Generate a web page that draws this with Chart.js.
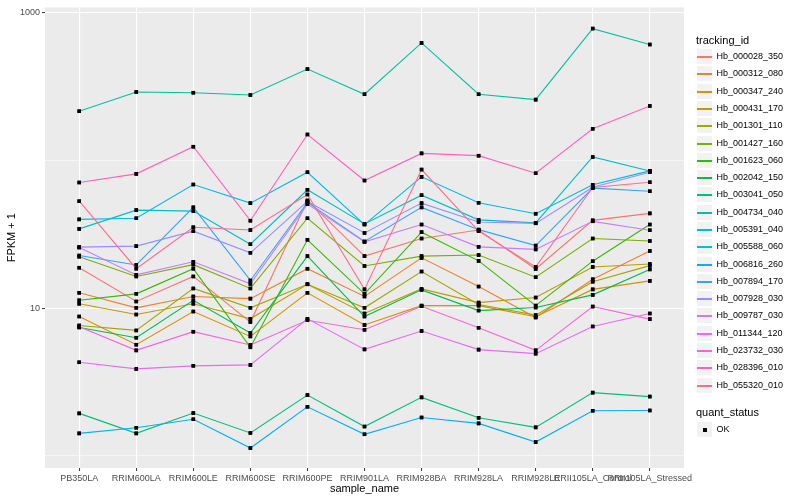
<!DOCTYPE html>
<html><head><meta charset="utf-8">
<script src="https://cdn.jsdelivr.net/npm/chart.js@4"></script>
<style>
html,body{margin:0;padding:0;background:#fff;}
#wrap{position:relative;width:800px;height:500px;overflow:hidden;font-family:"Liberation Sans",Arial,sans-serif;}
#c{position:absolute;left:0;top:0;}
.lt{position:absolute;white-space:nowrap;color:#000;}
.key{position:absolute;box-sizing:border-box;background:#F2F2F2;border:1px solid #fff;}
.kl{position:absolute;left:0;right:0;}
</style></head><body>
<div id="wrap"><canvas id="c" width="800" height="500"></canvas><div id="legend"></div></div>
<script>
// ---- data ----
const sampleNames = ["PB350LA","RRIM600LA","RRIM600LE","RRIM600SE","RRIM600PE","RRIM901LA","RRIM928BA","RRIM928LA","RRIM928LE","RRII105LA_Control","RRII105LA_Stressed"];
const trackingIds = ["Hb_000028_350","Hb_000312_080","Hb_000347_240","Hb_000431_170","Hb_001301_110","Hb_001427_160","Hb_001623_060","Hb_002042_150","Hb_003041_050","Hb_004734_040","Hb_005391_040","Hb_005588_060","Hb_006816_260","Hb_007894_170","Hb_007928_030","Hb_009787_030","Hb_011344_120","Hb_023732_030","Hb_028396_010","Hb_055320_010"];
const seriesColors = ["#F8766D","#EA8331","#D89000","#C09B00","#A3A500","#7CAE00","#39B600","#00BB4E","#00BF7D","#00C1A3","#00BFC4","#00BAE0","#00B0F6","#35A2FF","#9590FF","#C77CFF","#E76BF3","#FA62DB","#FF62BC","#FF6C91"];
const yTickValues = [1, 10, 100, 1000];
const yTickLabels = ["", "10", "", "1000"];

const Hb_000028_350 = [18.8, 11.1, 16.4, 8.05, 53.6, 22.5, 29.6, 33.8, 18.4, 39.3, 43.8];
const Hb_000312_080 = [12.7, 10.05, 12.0, 11.6, 18.5, 12.0, 21.9, 14.0, 8.64, 15.7, 24.4];
const Hb_000347_240 = [8.78, 5.66, 9.49, 6.44, 12.7, 7.69, 10.4, 10.4, 8.74, 13.4, 15.3];
const Hb_000431_170 = [10.7, 9.06, 10.7, 8.47, 14.5, 9.2, 13.5, 10.9, 11.8, 19.0, 19.9];
const Hb_001301_110 = [7.64, 7.07, 13.6, 10.05, 14.5, 10.05, 17.7, 10.6, 8.97, 15.1, 19.4];
const Hb_001427_160 = [22.3, 16.4, 19.7, 13.6, 40.6, 19.3, 22.5, 22.9, 16.2, 29.6, 28.5];
const Hb_001623_060 = [11.3, 12.5, 18.5, 5.43, 29.0, 12.5, 32.7, 20.9, 10.4, 20.8, 36.8];
const Hb_002042_150 = [7.40, 6.31, 11.3, 6.79, 22.5, 8.78, 13.3, 9.63, 10.1, 12.3, 18.3];
const Hb_003041_050 = [1.94, 1.42, 1.95, 1.43, 2.58, 1.58, 2.49, 1.81, 1.56, 2.68, 2.52];
const Hb_004734_040 = [215.4, 290.6, 287.4, 277.3, 415.2, 280.4, 624.2, 280.4, 257.9, 780.4, 608.8];
const Hb_005391_040 = [34.4, 46.1, 45.4, 27.1, 63.3, 37.2, 58.2, 39.6, 37.8, 105.6, 84.7];
const Hb_005588_060 = [39.9, 40.6, 68.7, 51.4, 83.2, 36.8, 77.4, 51.7, 43.6, 68.4, 85.0];
const Hb_006816_260 = [1.42, 1.55, 1.77, 1.13, 2.15, 1.40, 1.82, 1.66, 1.24, 2.02, 2.03];
const Hb_007894_170 = [22.7, 19.6, 48.1, 15.4, 52.0, 28.3, 48.1, 34.0, 26.5, 64.9, 61.9];
const Hb_007928_030 = [25.9, 26.3, 33.2, 23.7, 52.8, 32.3, 51.4, 38.3, 37.5, 65.9, 83.2];
const Hb_009787_030 = [25.7, 16.8, 20.6, 14.6, 50.6, 28.1, 36.8, 26.0, 25.0, 38.7, 33.7];
const Hb_011344_120 = [4.30, 3.88, 4.07, 4.13, 8.47, 5.26, 7.00, 5.24, 4.92, 7.52, 9.2];
const Hb_023732_030 = [7.48, 5.18, 6.93, 5.63, 8.28, 7.14, 10.3, 7.37, 5.18, 10.25, 8.43];
const Hb_028396_010 = [70.9, 81.1, 123.9, 39.1, 149.9, 73.1, 111.6, 107.7, 81.9, 163.7, 233.9];
const Hb_055320_010 = [53.0, 18.5, 35.3, 33.8, 58.8, 13.4, 86.7, 33.2, 19.0, 65.6, 71.2];

const seriesValues = [Hb_000028_350, Hb_000312_080, Hb_000347_240, Hb_000431_170, Hb_001301_110, Hb_001427_160, Hb_001623_060, Hb_002042_150, Hb_003041_050, Hb_004734_040, Hb_005391_040, Hb_005588_060, Hb_006816_260, Hb_007894_170, Hb_007928_030, Hb_009787_030, Hb_011344_120, Hb_023732_030, Hb_028396_010, Hb_055320_010];

// ---- chart ----
Chart.defaults.font.family = "'Liberation Sans', Arial, sans-serif";
const n = trackingIds.length;
const datasets = trackingIds.map((id, i) => ({
  label: id,
  data: seriesValues[i].map((v, j) => ({x: j, y: v})),
  borderColor: seriesColors[i],
  backgroundColor: seriesColors[i],
  borderWidth: 1.1,
  tension: 0,
  fill: false,
  order: n - i,
  pointStyle: 'rect',
  pointRadius: 2.5,
  pointBackgroundColor: '#000',
  pointBorderColor: '#000',
  pointBorderWidth: 0,
  pointHoverRadius: 2.5
}));

const panelBg = {
  id: 'panelBg',
  beforeDraw(chart) {
    const {ctx, chartArea: a} = chart;
    ctx.save();
    ctx.fillStyle = '#fff';
    ctx.fillRect(0, 0, chart.width, chart.height);
    ctx.fillStyle = '#EBEBEB';
    ctx.fillRect(a.left, a.top, a.right - a.left, a.bottom - a.top);
    ctx.restore();
  }
};
const pointsOnTop = {
  id: 'pointsOnTop',
  afterDatasetsDraw(chart) {
    const ctx = chart.ctx;
    chart.getSortedVisibleDatasetMetas().forEach(meta => {
      meta.data.forEach(el => el.draw(ctx, chart.chartArea));
    });
  }
};
const isLabeled = v => yTickLabels[yTickValues.indexOf(v)] !== "";

new Chart(document.getElementById('c'), {
  type: 'line',
  data: {datasets},
  plugins: [panelBg, pointsOnTop],
  options: {
    responsive: false,
    animation: false,
    devicePixelRatio: 1,
    events: [],
    layout: {padding: {left: 0, top: 5, right: 116, bottom: 0}},
    plugins: {legend: {display: false}, tooltip: {enabled: false}},
    scales: {
      x: {
        type: 'linear',
        min: -0.6, max: 10.6,
        bounds: 'data',
        afterBuildTicks: s => { s.ticks = sampleNames.map((_, i) => ({value: i})); },
        afterFit: s => { s.height = 32; },
        border: {display: false},
        grid: {color: '#FFFFFF', lineWidth: 1.1, tickLength: 3, tickColor: '#333333', tickWidth: 1},
        ticks: {
          autoSkip: false, maxRotation: 0, minRotation: 0,
          padding: 2, color: '#4D4D4D', font: {size: 9},
          callback: v => sampleNames[v]
        },
        title: {display: true, text: 'sample_name', color: '#000', font: {size: 11}, padding: {top: 0, bottom: 4}}
      },
      y: {
        type: 'logarithmic',
        min: 0.828, max: 1086,
        bounds: 'data',
        afterBuildTicks: s => { s.ticks = yTickValues.map(v => ({value: v})); },
        afterFit: s => { s.width = 45; },
        border: {display: false},
        grid: {
          color: '#FFFFFF',
          lineWidth: c => (c.tick && isLabeled(c.tick.value)) ? 1.1 : 0.55,
          tickLength: 3,
          tickColor: c => (c.tick && isLabeled(c.tick.value)) ? '#333333' : 'rgba(0,0,0,0)',
          tickWidth: 1
        },
        ticks: {
          padding: 2, color: '#4D4D4D', font: {size: 9},
          callback: v => { const k = yTickValues.indexOf(v); return k >= 0 ? yTickLabels[k] : ''; }
        },
        title: {display: true, text: 'FPKM + 1', color: '#000', font: {size: 11}, padding: {top: 5, bottom: 0}}
      }
    }
  }
});

// ---- legend (HTML) ----
const lg = document.getElementById('legend');
function txt(s, left, cy, size) {
  const d = document.createElement('div');
  d.className = 'lt';
  const lh = Math.round(size * 1.2);
  d.style.left = left + 'px';
  d.style.top = Math.round(cy - lh / 2) + 'px';
  d.style.fontSize = size + 'px';
  d.style.lineHeight = lh + 'px';
  d.textContent = s;
  lg.appendChild(d);
}
function key(cy) {
  const k = document.createElement('div');
  k.className = 'key';
  k.style.left = '696px';
  k.style.top = Math.round(cy - 8.5) + 'px';
  k.style.width = '17px';
  k.style.height = '17px';
  lg.appendChild(k);
  return k;
}
txt('tracking_id', 696, 40.7, 11);
trackingIds.forEach((id, i) => {
  const cy = 56.7 + 17.28 * i;
  const k = key(cy);
  const l = document.createElement('div');
  l.className = 'kl';
  l.style.top = '6.5px';
  l.style.height = '2px';
  l.style.background = seriesColors[i];
  k.appendChild(l);
  txt(id, 716.5, cy, 9);
});
txt('quant_status', 696, 412.3, 11);
const ok = key(429);
const sq = document.createElement('div');
sq.style.cssText = 'position:absolute;left:5.5px;top:5.5px;width:4px;height:4px;background:#000;';
ok.appendChild(sq);
txt('OK', 716.5, 429, 9);
</script>
</body></html>
